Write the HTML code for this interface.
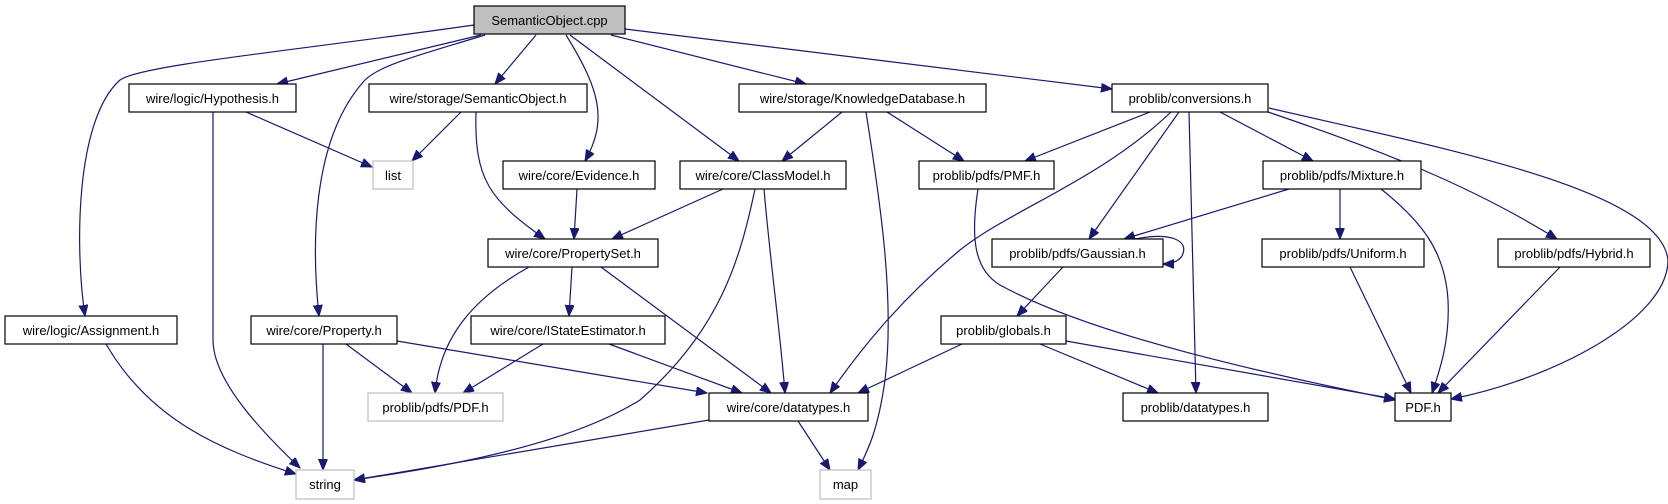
<!DOCTYPE html>
<html><head><meta charset="utf-8"><style>
html,body{margin:0;padding:0;background:#fff;}
svg{display:block;}
text{font-family:"Liberation Sans",sans-serif;font-size:13px;fill:#000;text-anchor:middle;}
.e{fill:none;stroke:#191970;stroke-width:1.2;marker-end:url(#a);}
.n{fill:#fff;stroke:#000;stroke-width:1.2;}
.g{fill:#fff;stroke:#bfbfbf;stroke-width:1.2;}
</style></head><body>
<svg width="1668" height="504" viewBox="0 0 1668 504" xmlns="http://www.w3.org/2000/svg">
<defs><marker id="a" markerUnits="userSpaceOnUse" markerWidth="12" markerHeight="10" refX="11" refY="4.5" orient="auto"><path d="M0,0 L11,4.5 L0,9 z" fill="#191970" stroke="#191970"/></marker></defs>
<path class="e" d="M481,35 L277,84"/>
<path class="e" d="M474,25 C300,50 140,65 120,80 C75,120 75,250 85,316"/>
<path class="e" d="M485,35 C420,55 380,65 365,80 C310,140 312,250 319,316"/>
<path class="e" d="M536,35 L495,84"/>
<path class="e" d="M566,35 C600,90 608,120 585,161"/>
<path class="e" d="M570,35 L739,161"/>
<path class="e" d="M611,35 L806,84"/>
<path class="e" d="M625,29 L1112,89"/>
<path class="e" d="M246,112 L372,167"/>
<path class="e" d="M213,112 L213,340 C213,380 260,430 300,468"/>
<path class="e" d="M461,112 L412,161"/>
<path class="e" d="M476,112 C474,180 490,200 545,239"/>
<path class="e" d="M577,189 L574,239"/>
<path class="e" d="M723,189 L612,239"/>
<path class="e" d="M755,189 C740,260 720,330 640,400 C560,450 420,470 354,480"/>
<path class="e" d="M764,189 C770,260 780,330 785,393"/>
<path class="e" d="M842,112 L782,161"/>
<path class="e" d="M866,112 C880,200 895,300 885,380 C878,430 868,450 858,470"/>
<path class="e" d="M887,112 L964,161"/>
<path class="e" d="M1150,112 L1025,161"/>
<path class="e" d="M1171,112 C1100,180 1010,210 960,250 C900,300 860,350 830,393"/>
<path class="e" d="M1179,112 L1089,239"/>
<path class="e" d="M1189,112 L1196,393"/>
<path class="e" d="M1220,112 L1313,161"/>
<path class="e" d="M1268,112 C1380,150 1470,185 1557,239"/>
<path class="e" d="M1269,108 C1450,150 1660,190 1668,260 C1668,320 1550,380 1451,399"/>
<path class="e" d="M978,189 C970,240 975,270 1000,285 C1100,340 1300,380 1395,400"/>
<path class="e" d="M1289,189 L1124,239"/>
<path class="e" d="M1340,189 L1340,239"/>
<path class="e" d="M1381,189 C1420,220 1445,250 1448,300 C1450,340 1440,370 1432,393"/>
<path class="e" d="M1135,239 C1170,232 1190,240 1182,256 C1178,262 1170,264 1163,264"/>
<path class="e" d="M1063,267 L1017,316"/>
<path class="e" d="M1350,267 L1411,393"/>
<path class="e" d="M1560,267 L1438,393"/>
<path class="e" d="M962,344 L858,393"/>
<path class="e" d="M1040,344 L1158,393"/>
<path class="e" d="M1066,341 L1395,399"/>
<path class="e" d="M529,267 C470,300 440,340 435,393"/>
<path class="e" d="M572,267 L569,316"/>
<path class="e" d="M601,267 L771,393"/>
<path class="e" d="M323,344 L323,470"/>
<path class="e" d="M346,344 L412,393"/>
<path class="e" d="M397,341 L707,393"/>
<path class="e" d="M543,344 L463,393"/>
<path class="e" d="M609,344 L742,393"/>
<path class="e" d="M106,344 C150,420 220,450 296,474"/>
<path class="e" d="M709,420 L354,480"/>
<path class="e" d="M798,421 L830,470"/>
<rect x="474" y="6" width="151" height="28" fill="#bfbfbf" stroke="#000" stroke-width="1.2"/><text x="549.5" y="25">SemanticObject.cpp</text>
<rect class="n" x="129" y="84" width="167" height="28"/><text x="212.5" y="103">wire/logic/Hypothesis.h</text>
<rect class="n" x="369" y="84" width="218" height="28"/><text x="478" y="103">wire/storage/SemanticObject.h</text>
<rect class="n" x="739" y="84" width="247" height="28"/><text x="862.5" y="103">wire/storage/KnowledgeDatabase.h</text>
<rect class="n" x="1112" y="84" width="156" height="28"/><text x="1190" y="103">problib/conversions.h</text>
<rect class="g" x="373" y="161" width="40" height="28"/><text x="393" y="180">list</text>
<rect class="n" x="503" y="161" width="152" height="28"/><text x="579" y="180">wire/core/Evidence.h</text>
<rect class="n" x="680" y="161" width="166" height="28"/><text x="763" y="180">wire/core/ClassModel.h</text>
<rect class="n" x="919" y="161" width="135" height="28"/><text x="986.5" y="180">problib/pdfs/PMF.h</text>
<rect class="n" x="1263" y="161" width="158" height="28"/><text x="1342" y="180">problib/pdfs/Mixture.h</text>
<rect class="n" x="488" y="239" width="170" height="28"/><text x="573" y="258">wire/core/PropertySet.h</text>
<rect class="n" x="992" y="239" width="171" height="28"/><text x="1077.5" y="258">problib/pdfs/Gaussian.h</text>
<rect class="n" x="1262" y="239" width="162" height="28"/><text x="1343" y="258">problib/pdfs/Uniform.h</text>
<rect class="n" x="1498" y="239" width="152" height="28"/><text x="1574" y="258">problib/pdfs/Hybrid.h</text>
<rect class="n" x="5" y="316" width="172" height="28"/><text x="91" y="335">wire/logic/Assignment.h</text>
<rect class="n" x="251" y="316" width="146" height="28"/><text x="324" y="335">wire/core/Property.h</text>
<rect class="n" x="471" y="316" width="194" height="28"/><text x="568" y="335">wire/core/IStateEstimator.h</text>
<rect class="n" x="941" y="316" width="125" height="28"/><text x="1003.5" y="335">problib/globals.h</text>
<rect class="g" x="368" y="393" width="135" height="28"/><text x="435.5" y="412">problib/pdfs/PDF.h</text>
<rect class="n" x="709" y="393" width="159" height="28"/><text x="788.5" y="412">wire/core/datatypes.h</text>
<rect class="n" x="1123" y="393" width="145" height="28"/><text x="1195.5" y="412">problib/datatypes.h</text>
<rect class="n" x="1395" y="393" width="56" height="28"/><text x="1423" y="412">PDF.h</text>
<rect class="g" x="296" y="470" width="58" height="29"/><text x="325" y="489">string</text>
<rect class="g" x="820" y="470" width="51" height="29"/><text x="845.5" y="489">map</text>
</svg>
</body></html>
